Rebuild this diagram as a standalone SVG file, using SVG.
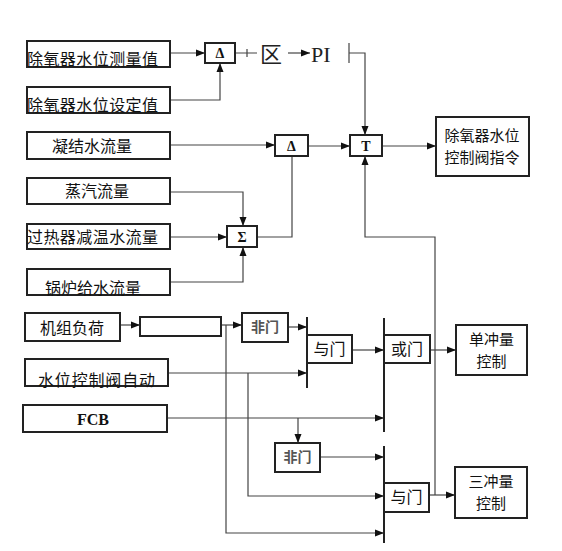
<svg xmlns="http://www.w3.org/2000/svg" width="562" height="551" viewBox="0 0 562 551">
<style>
.box{fill:#fff;stroke:#222;stroke-width:2}
.ln{fill:none;stroke:#444;stroke-width:1.2}
.bar{fill:none;stroke:#222;stroke-width:2}
.t{font-family:"Noto Sans CJK SC","Liberation Sans",sans-serif;font-size:16px;fill:#111}
.t2{font-family:"Noto Sans CJK SC","Liberation Sans",sans-serif;font-size:15px;fill:#111;text-anchor:middle}
.tc{text-anchor:middle}
.s{font-family:"Liberation Serif",serif;font-weight:bold;font-size:14px;text-anchor:middle;fill:#111}
.g{font-family:"Noto Sans CJK SC",sans-serif;font-size:14px;font-weight:bold;text-anchor:middle;fill:#555}
.big{font-family:"Liberation Serif","Noto Sans CJK SC",serif;font-size:22px;fill:#222}
</style>
<defs>
<marker id="a" markerUnits="userSpaceOnUse" markerWidth="10" markerHeight="8" refX="9" refY="4" orient="auto">
<path d="M0,0.5 L9,4 L0,7.5 Z" fill="#111"/>
</marker>
</defs>
<rect width="562" height="551" fill="#fff"/>
<g id="connectors">
<path class="ln" d="M170,53 H205" marker-end="url(#a)"/>
<path class="ln" d="M170,100 H220 V63" marker-end="url(#a)"/>
<path class="ln" d="M235,53 H257 M247,49 V57"/>
<path class="ln" d="M288,53 H310" stroke-width="2" marker-end="url(#a)"/>
<path class="ln" d="M349,43 V63 M349,53 H365 V135" marker-end="url(#a)"/>
<path class="ln" d="M170,145 H275" marker-end="url(#a)"/>
<path class="ln" d="M308,146 H350" marker-end="url(#a)"/>
<path class="ln" d="M382,146 H436" marker-end="url(#a)"/>
<path class="ln" d="M170,192 H243 V226" marker-end="url(#a)"/>
<path class="ln" d="M170,237 H227" marker-end="url(#a)"/>
<path class="ln" d="M170,282 H243 V247" marker-end="url(#a)"/>
<path class="ln" d="M257,237 H292 V156"/>
<path class="ln" d="M120,325 H140" marker-end="url(#a)"/>
<path class="ln" d="M221,325 H242" marker-end="url(#a)"/>
<path class="ln" d="M226,325 V533 H384" marker-end="url(#a)"/>
<path class="ln" d="M288,327 H307" marker-end="url(#a)"/>
<path class="ln" d="M168,373 H307" marker-end="url(#a)"/>
<path class="ln" d="M248,373 V496 H384" marker-end="url(#a)"/>
<path class="ln" d="M167,418 H384" marker-end="url(#a)"/>
<path class="ln" d="M298,418 V443" marker-end="url(#a)"/>
<path class="ln" d="M320,457 H384" marker-end="url(#a)"/>
<path class="ln" d="M352,350 H384" marker-end="url(#a)"/>
<path class="ln" d="M430,350 H456" marker-end="url(#a)"/>
<path class="ln" d="M429,495 H455" marker-end="url(#a)"/>
<path class="ln" d="M435,495 V237 H365 V156" marker-end="url(#a)"/>
<path class="bar" d="M307,317 V388 M384,318 V432 M384,446 V543"/>
</g>
<g id="n1"><rect class="box" x="27" y="41" width="143" height="26"/><text class="t" x="27" y="65" textLength="131">除氧器水位测量值</text></g>
<g id="n2"><rect class="box" x="27" y="87" width="143" height="26"/><text class="t" x="27" y="111" textLength="131">除氧器水位设定值</text></g>
<g id="d1"><rect class="box" x="205" y="43" width="30" height="20"/><text class="s" x="220" y="58">Δ</text></g>
<g id="lim"><text class="big" x="260" y="62">区</text><text class="big" x="311" y="62">PI</text></g>
<g id="n3"><rect class="box" x="27" y="132" width="143" height="27"/><text class="t tc" x="92" y="152">凝结水流量</text></g>
<g id="d2"><rect class="box" x="275" y="135" width="33" height="21"/><text class="s" x="291.5" y="151">Δ</text></g>
<g id="tt"><rect class="box" x="350" y="135" width="32" height="21"/><text class="s" x="366" y="151">T</text></g>
<g id="out"><rect class="box" x="436" y="117" width="93" height="59"/><text class="t2" x="482" y="141">除氧器水位</text><text class="t2" x="482" y="163">控制阀指令</text></g>
<g id="n4"><rect class="box" x="27" y="178" width="143" height="26"/><text class="t tc" x="97" y="197">蒸汽流量</text></g>
<g id="n5"><rect class="box" x="27" y="224" width="143" height="25"/><text class="t" x="27" y="243" textLength="131">过热器减温水流量</text></g>
<g id="sig"><rect class="box" x="227" y="226" width="30" height="21"/><text class="s" x="242" y="242">Σ</text></g>
<g id="n6"><rect class="box" x="27" y="269" width="143" height="26"/><text class="t tc" x="93" y="294">锅炉给水流量</text></g>
<g id="n7"><rect class="box" x="25" y="313" width="95" height="28"/><text class="t tc" x="72" y="334">机组负荷</text></g>
<g id="e1"><rect class="box" x="140" y="317" width="81" height="19"/></g>
<g id="not1"><rect class="box" x="242" y="313" width="46" height="29"/><text class="g" x="265" y="332">非门</text></g>
<g id="n8"><rect class="box" x="25" y="359" width="143" height="27"/><text class="t" x="38" y="386" textLength="117">水位控制阀自动</text></g>
<g id="and1"><rect class="box" x="307" y="335" width="45" height="28"/><text class="t tc" x="329.5" y="355">与门</text></g>
<g id="or1"><rect class="box" x="384" y="335" width="46" height="28"/><text class="t tc" x="407" y="355">或门</text></g>
<g id="single"><rect class="box" x="456" y="325" width="71" height="50"/><text class="t2" x="491.5" y="345">单冲量</text><text class="t2" x="491.5" y="367">控制</text></g>
<g id="n9"><rect class="box" x="23" y="405" width="144" height="27"/><text x="93" y="425" font-family="Liberation Serif,serif" font-size="16" font-weight="bold" text-anchor="middle" fill="#111">FCB</text></g>
<g id="not2"><rect class="box" x="275" y="443" width="45" height="29"/><text class="g" x="297.5" y="462">非门</text></g>
<g id="and2"><rect class="box" x="384" y="483" width="45" height="29"/><text class="t tc" x="406.5" y="503">与门</text></g>
<g id="triple"><rect class="box" x="455" y="467" width="72" height="51"/><text class="t2" x="491" y="487">三冲量</text><text class="t2" x="491" y="509">控制</text></g>
</svg>
